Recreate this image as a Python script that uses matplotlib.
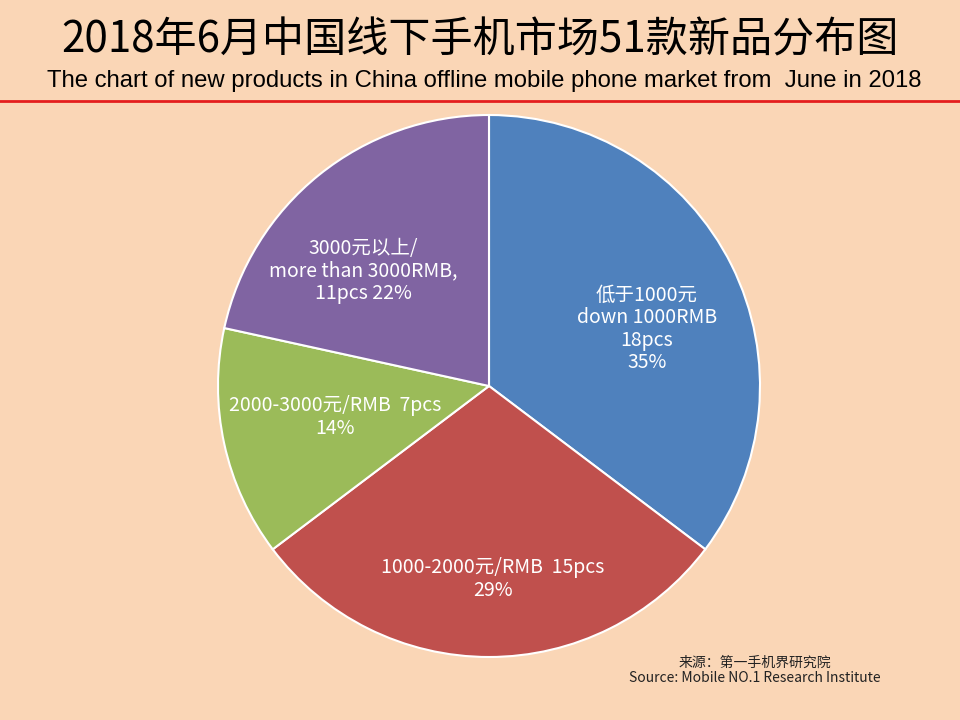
import matplotlib
matplotlib.use("Agg")
import matplotlib.pyplot as plt
from matplotlib.lines import Line2D

plt.rcParams['font.family'] = ['Noto Sans CJK SC', 'DejaVu Sans']

# --- data
segments = ["低于1000元", "1000-2000元", "2000-3000元", "3000元以上"]
counts = [18, 15, 7, 11]
labels = [
    "低于1000元\ndown 1000RMB\n18pcs\n35%",
    "1000-2000元/RMB  15pcs\n29%",
    "2000-3000元/RMB  7pcs\n14%",
    "3000元以上/\nmore than 3000RMB,\n11pcs 22%",
]
colors = ["#4F81BD", "#C0504D", "#9BBB59", "#8064A2"]
# label centres inside each wedge (data units, pie radius = 1)
label_xy = [(0.583, 0.210), (0.015, -0.712), (-0.568, -0.114), (-0.465, 0.424)]

title = "2018年6月中国线下手机市场51款新品分布图"
subtitle = "The chart of new products in China offline mobile phone market from  June in 2018"
source = "来源：第一手机界研究院\nSource: Mobile NO.1 Research Institute"

BG = "#FAD6B6"

fig = plt.figure(figsize=(9.6, 7.2), dpi=100, facecolor=BG)

# --- header
fig.text(0.5, 0.944, title, ha="center", va="center", fontsize=30.3, color="black")
fig.text(0.504, 0.888, subtitle, ha="center", va="center", fontsize=17.2,
         family=["Liberation Sans", "DejaVu Sans"], color="black")
fig.add_artist(Line2D([0, 1], [0.86, 0.86], color="#E41E1E", lw=2,
                      transform=fig.transFigure))

# --- pie
R = 271
cx, cy = 489, 386
ax = fig.add_axes([(cx - R) / 960, (720 - cy - R) / 720, 2 * R / 960, 2 * R / 720])
ax.set_facecolor(BG)
wedges, _ = ax.pie(counts, colors=colors, startangle=90, counterclock=False,
                   wedgeprops=dict(edgecolor="white", linewidth=1.5))
for w in wedges:
    w.set_clip_on(False)
ax.set_xlim(-1, 1)
ax.set_ylim(-1, 1)
ax.set_aspect("equal")
ax.axis("off")

for (x, y), txt in zip(label_xy, labels):
    ax.text(x, y, txt, ha="center", va="center", color="white",
            fontsize=14, linespacing=1.09)

# --- source note
fig.text(0.786, 0.069, source, ha="center", va="center", fontsize=10,
         color="#222222", linespacing=1.1)

fig.savefig("out.png", dpi=100, facecolor=BG)
